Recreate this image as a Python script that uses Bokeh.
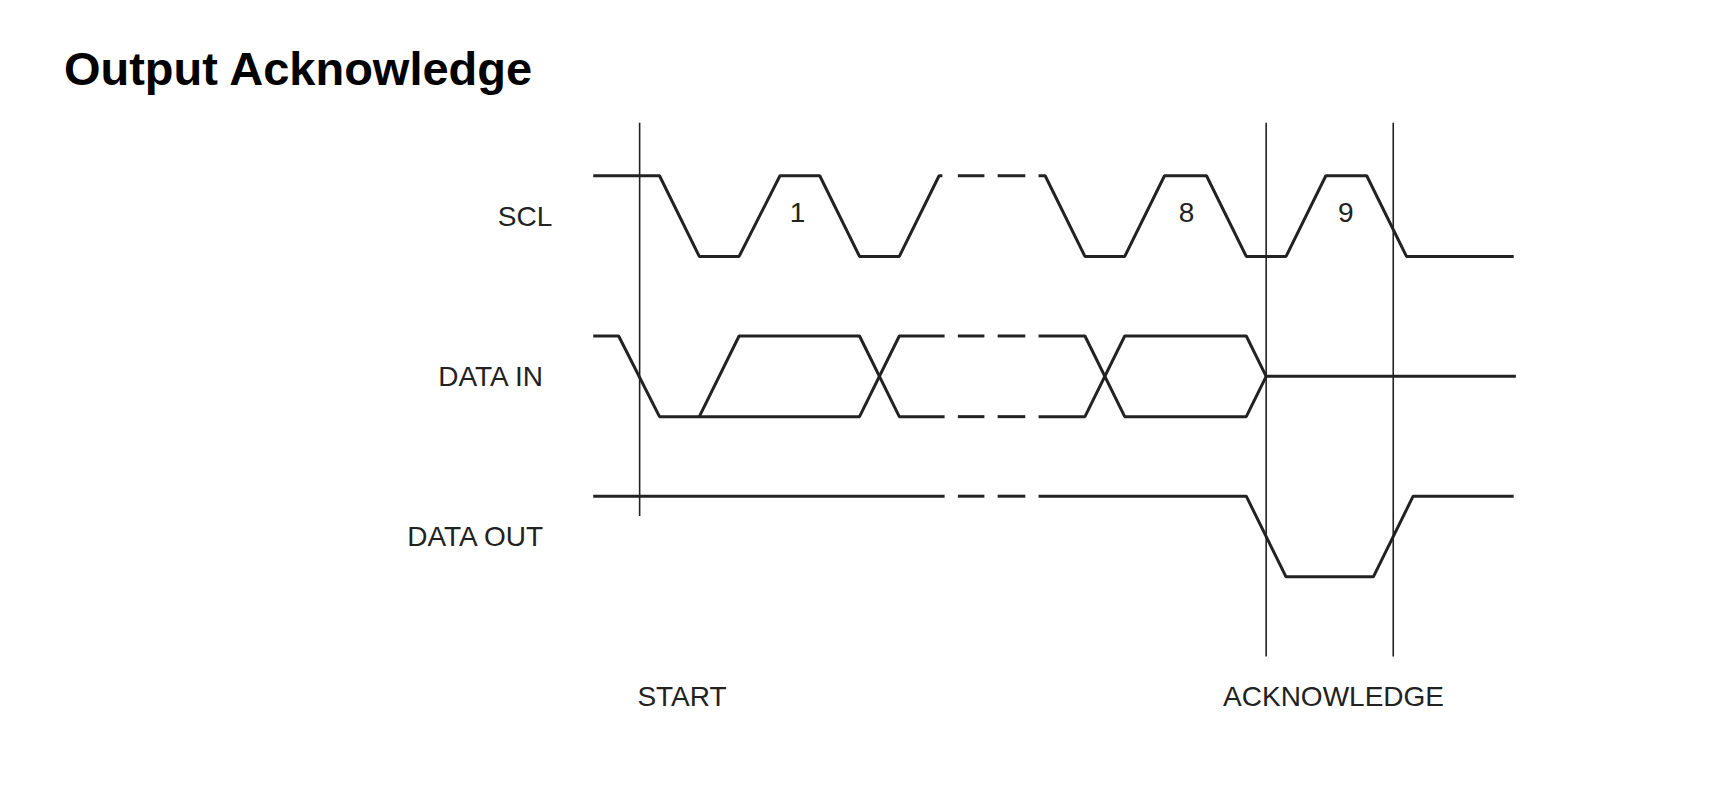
from bokeh.plotting import figure
from bokeh.models import Range1d
from bokeh.embed import file_html
from bokeh.resources import INLINE
from bokeh.core.properties import value

# waveform breakpoints (x) and logic levels (1 = high, 0 = low, 0.5 = mid)
scl_a_x = [537, 597, 633, 669, 706, 742, 778, 814, 850, 853]
scl_a_l = [1, 1, 0, 0, 1, 1, 0, 0, 1, 1]
scl_b_x = [940, 946, 982, 1018, 1054, 1092, 1128, 1164, 1200, 1237, 1273, 1370]
scl_b_l = [1, 1, 0, 0, 1, 1, 0, 0, 1, 1, 0, 0]

din_a_x = [537, 560, 597, 778, 814, 855]
din_a_l = [1, 1, 0, 0, 1, 1]
din_b_x = [633, 669, 778, 814, 855]
din_b_l = [0, 1, 1, 0, 0]
din_c_x = [940, 982, 1018, 1128, 1146, 1372]
din_c_l = [1, 1, 0, 0, 0.5, 0.5]
din_d_x = [940, 982, 1018, 1128, 1146]
din_d_l = [0, 0, 1, 1, 0.5]

dout_a_x = [537, 855]
dout_a_l = [1, 1]
dout_b_x = [940, 1128, 1164, 1243, 1279, 1370]
dout_b_l = [1, 1, 0, 0, 1, 1]

dash_x0 = [867, 903]
dash_x1 = [891, 928]

lanes = ["SCL", "DATA  IN", "DATA  OUT"]
lane_high = [159, 304, 449]
swing = 73

markers = ["START", "ACKNOWLEDGE"]
marker_lines = [579, 1146, 1261]
marker_tops = [111, 111, 111]
marker_bots = [467, 594, 594]
bit_labels = ["1", "8", "9"]
bit_x = [722, 1074, 1218]

S = 1.105
W, H = 1714, 791
p = figure(width=W, height=H, output_backend="svg", toolbar_location=None,
           x_range=Range1d(0.6, W / S + 0.6), y_range=Range1d(H / S + 0.4, 0.4),
           min_border=0)
p.axis.visible = False
p.grid.visible = False
p.outline_line_color = None

def ys(lane, levels):
    return [lane_high[lane] + (1 - l) * swing for l in levels]

lw = 3
col = "#222222"
for lane, xs, ls in [(0, scl_a_x, scl_a_l), (0, scl_b_x, scl_b_l),
                     (1, din_a_x, din_a_l), (1, din_b_x, din_b_l),
                     (1, din_c_x, din_c_l), (1, din_d_x, din_d_l),
                     (2, dout_a_x, dout_a_l), (2, dout_b_x, dout_b_l)]:
    p.line(xs, ys(lane, ls), line_width=lw, line_color=col)

# dashed gap segments
for lane, lvls in [(0, [1]), (1, [1, 0]), (2, [1])]:
    for l in lvls:
        y = ys(lane, [l])[0]
        p.segment(x0=dash_x0, x1=dash_x1, y0=[y] * 2, y1=[y] * 2, line_width=lw, line_color=col)

p.segment(x0=marker_lines, x1=marker_lines, y0=marker_tops, y1=marker_bots,
          line_width=1.6, line_color=col)

font = value("Liberation Sans")
p.text(x=[500] * 3, y=[h + swing / 2 for h in lane_high], text=lanes, text_font=font,
       text_font_size="28px", text_align="right", text_baseline="middle", text_color=col)
p.text(x=bit_x, y=[lane_high[0] + swing / 2 - 3] * 3, text=bit_labels, text_font=font,
       text_font_size="28px", text_align="center", text_baseline="middle", text_color=col)
p.text(x=[577, 1107], y=[630, 630], text=markers, text_font=font,
       text_font_size="28px", text_align="left", text_baseline="middle", text_color=col)
p.text(x=[58], y=[62], text=["Output Acknowledge"], text_font=font, text_font_style="bold",
       text_font_size="47px", text_align="left", text_baseline="middle", text_color="black")

open("out.html", "w").write(file_html(p, INLINE))
